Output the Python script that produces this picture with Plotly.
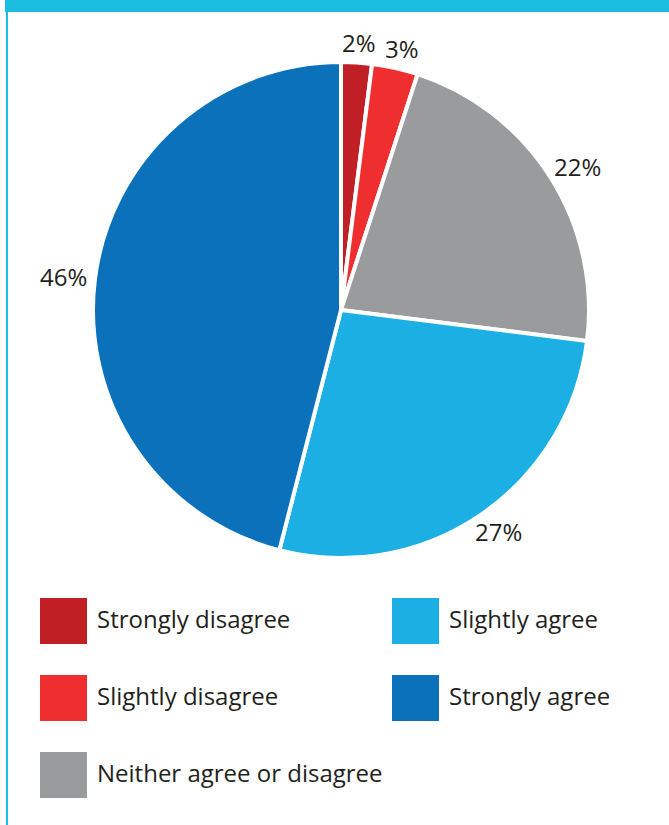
import math
import plotly.graph_objects as go

# Data
categories = ['Strongly disagree', 'Slightly disagree', 'Neither agree or disagree',
              'Slightly agree', 'Strongly agree']
values = [2, 3, 22, 27, 46]
colors = ['#C01F26', '#EE2E2F', '#999B9C', '#1BAFE4', '#0A71BA']

W, H = 669, 825
accent = '#1ABDDF'
text_color = '#231F20'
font_family = 'Open Sans'

# pie box in pixels (left, top, size)
pie_x, pie_y, pie_d = 93, 62, 496

fig = go.Figure(go.Pie(
    labels=categories, values=values, sort=False, direction='clockwise', rotation=0,
    marker=dict(colors=colors, line=dict(color='white', width=4)),
    textinfo='none',
    domain=dict(x=[pie_x / W, (pie_x + pie_d) / W], y=[1 - (pie_y + pie_d) / H, 1 - pie_y / H]),
    showlegend=False, hoverinfo='label+percent',
))

# Frame: top bar and left rule
shapes = [
    dict(type='rect', xref='paper', yref='paper', x0=5 / W, x1=1, y0=1 - 12 / H, y1=1,
         fillcolor=accent, line_width=0),
    dict(type='rect', xref='paper', yref='paper', x0=6 / W, x1=8 / W, y0=0, y1=1 - 12 / H,
         fillcolor=accent, line_width=0),
]
annotations = []

# Percent labels just outside each slice, at the slice's mid angle
cx, cy, r = pie_x + pie_d / 2, pie_y + pie_d / 2, pie_d / 2
total = sum(values)
cum = 0
for v in values:
    theta = 2 * math.pi * (cum + v / 2) / total
    cum += v
    s, c = math.sin(theta), math.cos(theta)
    lx = cx + s * (r + 8) + 24 * s
    ly = cy - c * (r + 8) - 12 * c
    annotations.append(dict(text='{}%'.format(v), xref='paper', yref='paper',
                            x=lx / W, y=1 - ly / H, xanchor='center', yanchor='middle',
                            showarrow=False,
                            font=dict(family=font_family, size=24, color=text_color)))

# Custom legend: two columns, filled column-major
col_x = [40, 392]
row_y = [598, 675, 752]
for i, (cat, col) in enumerate(zip(categories, colors)):
    ci, ri = (0, i) if i < 3 else (1, i - 3)
    x0, y0 = col_x[ci], row_y[ri]
    shapes.append(dict(type='rect', xref='paper', yref='paper',
                       x0=x0 / W, x1=(x0 + 47) / W, y0=1 - (y0 + 46) / H, y1=1 - y0 / H,
                       fillcolor=col, line_width=0))
    annotations.append(dict(text=cat, xref='paper', yref='paper', x=(x0 + 55) / W,
                            y=1 - (y0 + 20) / H, xanchor='left', yanchor='middle',
                            showarrow=False,
                            font=dict(family=font_family, size=24, color=text_color)))

fig.update_layout(
    width=W, height=H, margin=dict(t=0, b=0, l=0, r=0),
    paper_bgcolor='white', plot_bgcolor='white',
    shapes=shapes, annotations=annotations,
)

# no page margin so the figure sits at the window's corner
fig.write_html('out.html', config={'displayModeBar': False},
               post_script="document.body.style.margin='0';")
